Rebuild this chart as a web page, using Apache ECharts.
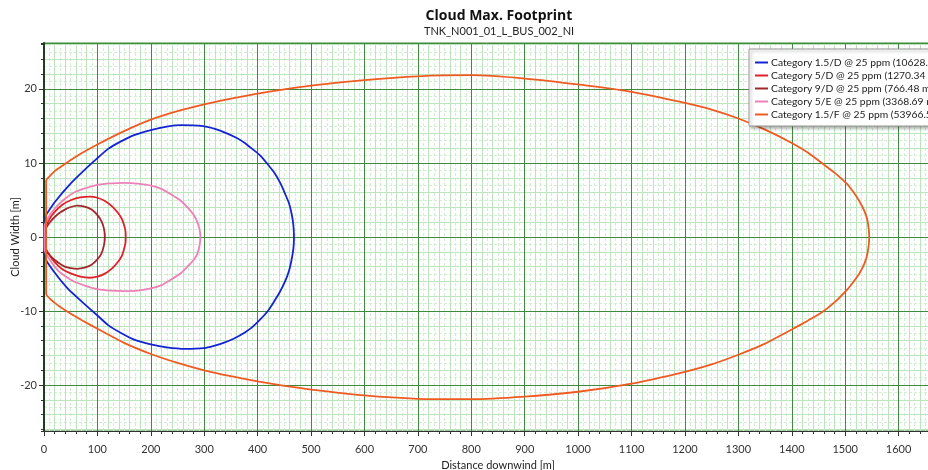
<!DOCTYPE html>
<html>
<head>
<meta charset="utf-8">
<script src="https://cdn.jsdelivr.net/npm/echarts@6/dist/echarts.min.js"></script>
<style>
html,body{margin:0;padding:0;background:#fff;overflow:hidden;}
#chart{width:928px;height:470px;}
</style>
</head>
<body>
<div id="chart"></div>
<script>
// ---- Data ----
const chartTitle = 'Cloud Max. Footprint';
const chartSubtitle = 'TNK_N001_01_L_BUS_002_NI';
const xAxisName = 'Distance downwind [m]';
const yAxisName = 'Cloud Width [m]';

const seriesNames = [
  'Category 1.5/D @ 25 ppm (10628.8 m2)',
  'Category 5/D @ 25 ppm (1270.34 m2)',
  'Category 9/D @ 25 ppm (766.48 m2)',
  'Category 5/E @ 25 ppm (3368.69 m2)',
  'Category 1.5/F @ 25 ppm (53966.5 m2)'
];

// Category 1.5/D outline (x = distance downwind [m], y = cloud width [m])
const cat15D_x = [3, 20, 51, 75, 100, 120, 145, 170, 200, 230, 257, 295, 320, 339, 360, 376, 390, 405, 418, 431, 443, 451, 459, 464, 467, 468,
                  467, 464, 459, 452, 441, 430, 418, 404, 391, 376, 356, 336, 318, 300, 264, 230, 200, 170, 145, 120, 100, 75, 45, 20, 3, 3];
const cat15D_y = [2.9, 4.7, 7.3, 9.0, 10.65, 11.9, 12.95, 13.8, 14.45, 14.9, 15.1, 15.0, 14.6, 14.1, 13.4, 12.7, 11.9, 11.0, 9.9, 8.7, 7.2, 5.9, 4.5, 3.0, 1.5, 0,
                  -1.5, -2.9, -4.5, -5.9, -7.5, -8.8, -10.1, -11.2, -12.1, -12.9, -13.7, -14.3, -14.7, -15.0, -15.1, -14.9, -14.5, -13.9, -13.0, -11.9, -10.6, -9.0, -7.0, -4.8, -2.9, 2.9];

// Category 5/D outline
const cat5D_x = [1, 10, 20, 35, 51, 68, 86, 100, 114, 128, 139, 146, 150, 152.5, 153,
                 152.5, 150, 146, 139, 128, 114, 100, 86, 68, 51, 35, 20, 10, 1, 1];
const cat5D_y = [1.1, 2.4, 3.4, 4.4, 5.0, 5.35, 5.45, 5.3, 4.85, 4.1, 3.2, 2.4, 1.6, 0.8, 0,
                 -0.8, -1.6, -2.5, -3.3, -4.2, -4.95, -5.35, -5.5, -5.35, -4.95, -4.4, -3.4, -2.4, -1.1, 1.1];

// Category 9/D outline
const cat9D_x = [1, 10, 20, 30, 39, 50, 62, 76, 89, 99, 107, 112, 114,
                 112, 107, 99, 89, 76, 62, 50, 39, 30, 20, 10, 1, 1];
const cat9D_y = [0.9, 1.9, 2.7, 3.3, 3.7, 4.05, 4.25, 4.1, 3.7, 3.05, 2.2, 1.2, 0,
                 -1.2, -2.3, -3.1, -3.75, -4.15, -4.3, -4.2, -4.0, -3.6, -3.1, -2.4, -1.7, 0.9];

// Category 5/E outline
const cat5E_x = [1, 12, 26, 40, 57, 78, 100, 125, 151, 175, 200, 220, 239, 256, 270, 280, 286, 291, 293,
                 291, 287, 280, 270, 256, 239, 220, 200, 175, 151, 125, 100, 78, 57, 40, 26, 12, 1, 1];
const cat5E_y = [1.6, 3.1, 4.3, 5.2, 6.05, 6.6, 7.05, 7.25, 7.3, 7.2, 6.95, 6.5, 5.7, 4.9, 3.9, 3.0, 2.2, 1.1, 0,
                 -1.2, -2.3, -3.1, -3.9, -4.9, -5.7, -6.5, -6.95, -7.25, -7.3, -7.25, -7.05, -6.6, -6.05, -5.3, -4.5, -3.2, -1.8, 1.6];

// Category 1.5/F outline
const cat15F_x = [4, 20, 42, 70, 100, 150, 200, 250, 300, 350, 400, 450, 500, 600, 700, 800, 900, 1000, 1100, 1200, 1250, 1300, 1350, 1400, 1430, 1456, 1480, 1503, 1515, 1526, 1536, 1541.5, 1545,
                  1541.5, 1536, 1526, 1516, 1505, 1482, 1456, 1430, 1400, 1350, 1300, 1250, 1200, 1100, 1000, 900, 800, 700, 600, 500, 450, 400, 350, 300, 250, 200, 150, 100, 70, 42, 20, 4, 4];
const cat15F_y = [7.7, 8.9, 10.0, 11.3, 12.5, 14.3, 15.85, 17.0, 17.9, 18.7, 19.35, 19.95, 20.45, 21.2, 21.7, 21.85, 21.4, 20.6, 19.6, 18.1, 17.2, 16.0, 14.5, 12.7, 11.4, 10.0, 8.7, 7.2, 6.1, 4.9, 3.5, 2.3, 0,
                  -2.3, -3.6, -5.0, -6.0, -7.0, -8.7, -10.2, -11.3, -12.5, -14.4, -15.9, -17.2, -18.2, -19.8, -20.9, -21.55, -21.9, -21.85, -21.4, -20.6, -20.1, -19.5, -18.8, -18.0, -17.0, -15.8, -14.3, -12.4, -11.2, -10.0, -8.9, -7.7, 7.7];

const seriesX = [cat15D_x, cat5D_x, cat9D_x, cat5E_x, cat15F_x];
const seriesY = [cat15D_y, cat5D_y, cat9D_y, cat5E_y, cat15F_y];

// ---- Styles ----
const seriesColors = ['#1424d4', '#e0202a', '#a1262e', '#ee80b8', '#f05a22'];
const X_MIN = 0, X_MAX = 1700, Y_MIN = -26.2, Y_MAX = 26.2;
const majorGrid = '#3f8a3f';
const minorSolid = '#bde5bd';
const minorDash = '#d3efd3';
const fontFam = 'Lato, "Open Sans", sans-serif';
const titleFam = '"Open Sans", "Noto Sans", sans-serif';

function pairs(xs, ys) { return xs.map((x, i) => [x, ys[i]]); }

const chart = echarts.init(document.getElementById('chart'), null, {renderer: 'canvas'});

const hiddenLine = {show: false, onZero: false};
const hiddenLabel = {show: false};

const option = {
  animation: false,
  backgroundColor: '#fff',
  title: {
    text: chartTitle,
    subtext: chartSubtitle,
    left: 499,
    top: 9,
    textAlign: 'center',
    itemGap: 3,
    padding: 0,
    textStyle: {fontFamily: titleFam, fontSize: 14, fontWeight: 'bold', color: '#111'},
    subtextStyle: {fontFamily: fontFam, fontSize: 11, color: '#222'}
  },
  legend: {
    z: 30,
    orient: 'vertical',
    left: 749,
    top: 49,
    padding: [7, 10, 5, 6],
    itemGap: 0,
    itemWidth: 13,
    itemHeight: 2,
    icon: 'rect',
    backgroundColor: '#fff',
    borderColor: '#9a9a9a',
    borderWidth: 1,
    shadowColor: 'rgba(0,0,0,0.3)',
    shadowBlur: 3,
    shadowOffsetX: 2,
    shadowOffsetY: 2,
    textStyle: {fontFamily: fontFam, fontSize: 10.3, color: '#222', lineHeight: 13, padding: [0, 0, 0, -2]},
    data: seriesNames
  },
  grid: {left: 44, right: -24, top: 43, bottom: 39, show: true, borderColor: majorGrid, borderWidth: 1,
         backgroundColor: '#fff', outerBoundsMode: 'none', containLabel: false},
  xAxis: [
    { // helper: dashed 10 m lines
      type: 'value', position: 'bottom', z: 1, min: X_MIN, max: X_MAX, interval: 10,
      axisLine: hiddenLine, axisLabel: hiddenLabel, axisTick: {show: false},
      splitLine: {show: true, lineStyle: {color: minorDash, width: 1, type: [3, 2]}}
    },
    { // helper: solid light 20 m lines + minor ticks
      type: 'value', position: 'bottom', z: 2, min: X_MIN, max: X_MAX, interval: 20,
      axisLine: hiddenLine, axisLabel: hiddenLabel,
      axisTick: {show: true, length: 3, lineStyle: {color: '#333'}},
      splitLine: {show: true, lineStyle: {color: minorSolid, width: 1}}
    },
    {
      type: 'value', position: 'bottom', z: 3, min: X_MIN, max: X_MAX, interval: 100,
      name: xAxisName, nameLocation: 'middle', nameGap: 26,
      nameTextStyle: {fontFamily: fontFam, fontSize: 11, color: '#222'},
      axisLine: {show: true, onZero: false, lineStyle: {color: '#333', width: 1}},
      axisTick: {show: true, length: 5, lineStyle: {color: '#333'}},
      axisLabel: {fontFamily: fontFam, fontSize: 11, color: '#333', margin: 13, showMaxLabel: false,
                  formatter: v => String(v)},
      splitLine: {show: true, lineStyle: {color: majorGrid, width: 1}}
    }
  ],
  yAxis: [
    { // helper: dashed 1 m lines
      type: 'value', position: 'left', z: 1, min: Y_MIN, max: Y_MAX, minInterval: 1, maxInterval: 1, splitNumber: 52,
      axisLine: hiddenLine, axisLabel: hiddenLabel, axisTick: {show: false},
      splitLine: {show: true, lineStyle: {color: minorDash, width: 1, type: [3, 2]}}
    },
    { // helper: solid light 2 m lines + minor ticks
      type: 'value', position: 'left', z: 2, min: Y_MIN, max: Y_MAX, minInterval: 2, maxInterval: 2, splitNumber: 26,
      axisLine: hiddenLine, axisLabel: hiddenLabel,
      axisTick: {show: true, length: 3, lineStyle: {color: '#333'}},
      splitLine: {show: true, lineStyle: {color: minorSolid, width: 1}}
    },
    {
      type: 'value', position: 'left', z: 3, min: Y_MIN, max: Y_MAX, minInterval: 10, maxInterval: 10, splitNumber: 5,
      name: yAxisName, nameLocation: 'middle', nameGap: 23, nameRotate: 90, nameMoveOverlap: false,
      nameTextStyle: {fontFamily: fontFam, fontSize: 11, color: '#222'},
      axisLine: {show: true, onZero: false, lineStyle: {color: '#1e3e1e', width: 2}},
      axisTick: {show: true, length: 5, lineStyle: {color: '#333'}},
      axisLabel: {fontFamily: fontFam, fontSize: 11, color: '#333', margin: 7, showMinLabel: false, showMaxLabel: false},
      splitLine: {show: true, lineStyle: {color: majorGrid, width: 1}}
    }
  ],
  series: seriesNames.map((name, i) => ({
    name: name,
    type: 'line',
    xAxisIndex: 2,
    yAxisIndex: 2,
    data: pairs(seriesX[i], seriesY[i]),
    showSymbol: false,
    symbol: 'none',
    smooth: 0.15,
    clip: true,
    lineStyle: {color: seriesColors[i], width: 1.8},
    itemStyle: {color: seriesColors[i]},
    z: 10 + i
  }))
};

chart.setOption(option);
</script>
</body>
</html>
